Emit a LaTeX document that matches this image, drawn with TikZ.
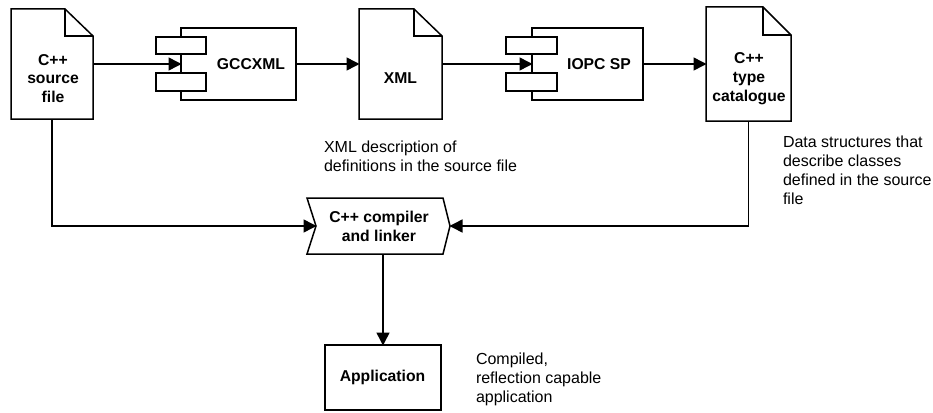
\documentclass[tikz,border=0pt]{standalone}
\usepackage{fontspec}
\setmainfont{Liberation Sans}
\usetikzlibrary{arrows.meta,calc}
\tikzset{
  x=1pt,y=-1pt,
  ln/.style={line width=1.5pt,line join=miter},
  ctr/.style={draw=none,inner sep=0pt,outer sep=0pt,align=center,font=\fontsize{15.7}{18.9}\selectfont\bfseries},
  lbl/.style={inner sep=0pt,outer sep=0pt,anchor=north west,align=left,font=\fontsize{16}{19}\selectfont},
  conn/.style={line width=1.5pt,-{Triangle[length=13pt,width=13pt]},shorten >=-0.5pt},
  box/.style={ctr,minimum width=#1},
}
\begin{document}
\begin{tikzpicture}
\useasboundingbox (0,0) rectangle (933,412);
% documents
\node[box=82,minimum height=110] (src) at (52,64) {};
\node[ctr] (srct) at (53,78.5) {C++\\source\\file};
\draw[ln] (src.north west) -- (65,9) -- (93,36) -- (src.south east) -- (src.south west) -- cycle;
\draw[ln] (65,9) -- (65,36) -- (93,36);
\node[box=83,minimum height=110] (xml) at (400.5,64) {};
\node[ctr] (xmlt) at (400.5,78.5) {XML};
\draw[ln] (xml.north west) -- (414,9) -- (442,36) -- (xml.south east) -- (xml.south west) -- cycle;
\draw[ln] (414,9) -- (414,36) -- (442,36);
\node[box=85,minimum height=114] (cat) at (748.5,64) {};
\node[ctr] (catt) at (749,78.5) {C++\\type\\catalogue};
\draw[ln] (cat.north west) -- (763,7) -- (791,35) -- (cat.south east) -- (cat.south west) -- cycle;
\draw[ln] (763,7) -- (763,35) -- (791,35);
% components
\node[box=115,minimum height=72,draw=black,ln] (gcc) at (238.5,64) {\hspace*{25pt}GCCXML};
\draw[ln,fill=white] (156,37) rectangle (206,54);
\draw[ln,fill=white] (156,73) rectangle (206,91);
\node[box=111,minimum height=72,draw=black,ln] (iopc) at (587.5,64) {\hspace*{23pt}IOPC SP};
\draw[ln,fill=white] (506,37) rectangle (557,54);
\draw[ln,fill=white] (506,73) rectangle (557,91);
% compiler
\node[box=134,minimum height=56] (comp) at (383,226) {};
\node[ctr] (compt) at (379,226.5) {C++ compiler\\and linker};
\draw[ln] (307,198) -- (443,198) -- (comp.east) -- (443,254) -- (307,254) -- (comp.west) -- cycle;
% application
\node[box=116,minimum height=65,draw=black,ln] (app) at (383,377.5) {\hspace*{-1pt}Application};
% connectors
\draw[conn] (src.east) -- (gcc.west);
\draw[conn] (gcc.east) -- (xml.west);
\draw[conn] (xml.east) -- (iopc.west);
\draw[conn] (iopc.east) -- (cat.west);
\draw[conn] (src.south) |- (comp.west);
\draw[conn] (cat.south) |- (comp.east);
\draw[conn] (comp.south) -- (app.north);
% labels
\node[lbl] (n1) at (324,140.5) {XML description of\\definitions in the source file};
\node[lbl] (n2) at (783,136) {Data structures that\\describe classes\\defined in the source\\file};
\node[lbl] (n3) at (476,352.5) {Compiled,\\reflection capable\\application};
\end{tikzpicture}
\end{document}
